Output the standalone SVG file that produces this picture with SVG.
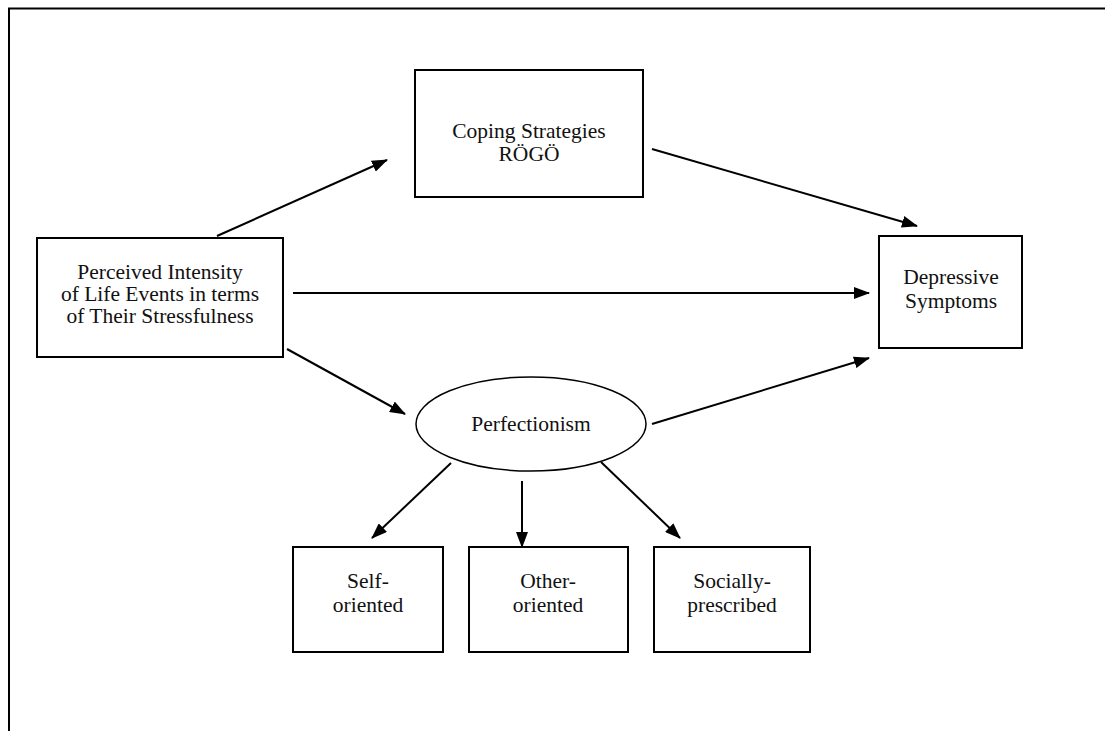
<svg xmlns="http://www.w3.org/2000/svg" width="1105" height="731" viewBox="0 0 1105 731">
  <style>
    .box { fill: #fff; stroke: #000; stroke-width: 2; }
    .lbl { font-family: "Liberation Serif", "Times New Roman", serif; font-size: 21.5px; fill: #111; text-anchor: middle; }
    .conn { stroke: #000; stroke-width: 2; fill: none; marker-end: url(#arrow); }
    .frame { stroke: #000; stroke-width: 2; fill: none; }
  </style>
  <defs>
    <marker id="arrow" markerWidth="16" markerHeight="12" refX="15" refY="6" orient="auto" markerUnits="userSpaceOnUse">
      <path d="M0,0 L16,6 L0,12 Z" fill="#000"/>
    </marker>
  </defs>
  <rect width="1105" height="731" fill="#fff"/>
  <!-- page frame: top and left rules -->
  <path class="frame" d="M9,731 L9,8.5 L1105,8.5"/>

  <g id="connectors">
    <line class="conn" x1="217" y1="236" x2="387" y2="160"/>
    <line class="conn" x1="652" y1="149" x2="917" y2="226"/>
    <line class="conn" x1="293" y1="293" x2="869" y2="293"/>
    <line class="conn" x1="287" y1="349" x2="405" y2="414"/>
    <line class="conn" x1="652" y1="424" x2="869" y2="358"/>
    <line class="conn" x1="451" y1="463" x2="372" y2="538"/>
    <line class="conn" x1="522" y1="481" x2="522" y2="547"/>
    <line class="conn" x1="601" y1="462" x2="680" y2="538"/>
  </g>

  <g id="coping">
    <rect class="box" x="415" y="70" width="228" height="127"/>
    <text class="lbl" x="529" y="138">Coping Strategies</text>
    <text class="lbl" x="529" y="161">RÖGÖ</text>
  </g>

  <g id="perceived">
    <rect class="box" x="37" y="238" width="246" height="119"/>
    <text class="lbl" x="160" y="279">Perceived Intensity</text>
    <text class="lbl" x="160" y="301">of Life Events in terms</text>
    <text class="lbl" x="160" y="323">of Their Stressfulness</text>
  </g>

  <g id="depressive">
    <rect class="box" x="879" y="236" width="143" height="112"/>
    <text class="lbl" x="951" y="284">Depressive</text>
    <text class="lbl" x="951" y="308">Symptoms</text>
  </g>

  <g id="perfectionism">
    <ellipse cx="531" cy="424" rx="115" ry="47" fill="#fff" stroke="#000" stroke-width="1.5"/>
    <text class="lbl" x="531" y="431">Perfectionism</text>
  </g>

  <g id="self-oriented">
    <rect class="box" x="293" y="547" width="150" height="105"/>
    <text class="lbl" x="368" y="588">Self-</text>
    <text class="lbl" x="368" y="612">oriented</text>
  </g>

  <g id="other-oriented">
    <rect class="box" x="469" y="547" width="159" height="105"/>
    <text class="lbl" x="548" y="588">Other-</text>
    <text class="lbl" x="548" y="612">oriented</text>
  </g>

  <g id="socially-prescribed">
    <rect class="box" x="654" y="547" width="156" height="105"/>
    <text class="lbl" x="732" y="588">Socially-</text>
    <text class="lbl" x="732" y="612">prescribed</text>
  </g>
</svg>
